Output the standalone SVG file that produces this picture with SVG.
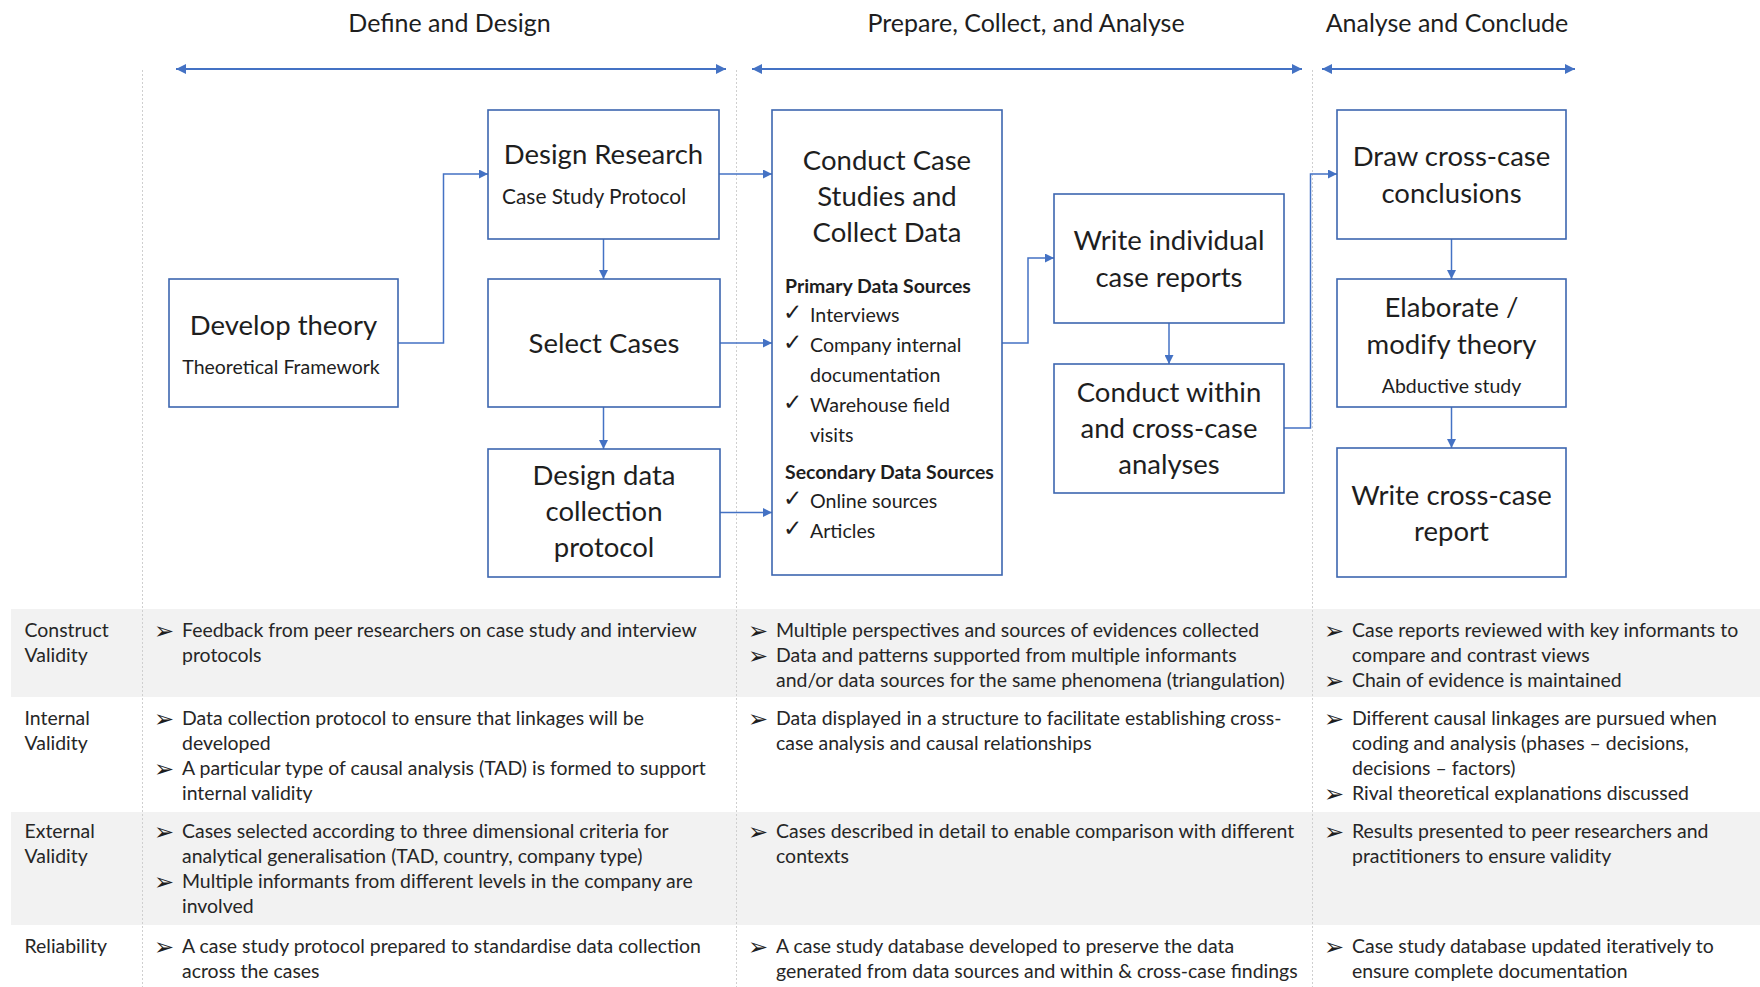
<svg xmlns="http://www.w3.org/2000/svg" width="1760" height="987" viewBox="0 0 1760 987">
  <style>
    text { font-family: Lato, "Liberation Sans", sans-serif; fill: #1e1e1e; }
    .hdr { font-size: 25px; text-anchor: middle; }
    .ttl { font-size: 27.5px; text-anchor: middle; }
    .sub { font-size: 19.5px; }
    .sub-lg { font-size: 20.9px; }
    .mid { text-anchor: middle; }
    .bold { font-weight: bold; font-size: 19.45px; }
    .item { font-size: 19.6px; }
    .tbl { font-size: 19.45px; fill: #262626; }
    .sym { font-family: "DejaVu Sans", sans-serif; font-size: 24px; fill: #1e1e1e; }
    .chk { font-family: "DejaVu Sans", sans-serif; font-size: 23px; fill: #1e1e1e; }
    .box { fill: #ffffff; stroke: #3d66b0; stroke-width: 1.6; }
    .conn { fill: none; stroke: #4472c4; stroke-width: 1.5; }
    .phase { fill: none; stroke: #4472c4; stroke-width: 2.2; }
    .guide { stroke: #cfcfcf; stroke-width: 1; stroke-dasharray: 2 2; }
    .band { fill: #f2f2f2; }
  </style>
  <defs>
    <marker id="tip" viewBox="0 0 10 10" refX="10" refY="5" markerWidth="9" markerHeight="9" markerUnits="userSpaceOnUse" orient="auto-start-reverse">
      <path d="M0,0 L10,5 L0,10 z" fill="#4472c4"/>
    </marker>
    <marker id="ptip" viewBox="0 0 10 10" refX="10" refY="5" markerWidth="10" markerHeight="10" markerUnits="userSpaceOnUse" orient="auto-start-reverse">
      <path d="M0,0 L10,5 L0,10 z" fill="#4472c4"/>
    </marker>
  </defs>

  <rect width="1760" height="987" fill="#ffffff"/>

  <!-- table bands -->
  <g id="bands">
    <rect class="band" x="11" y="609" width="1749" height="88"/>
    <rect class="band" x="11" y="812" width="1749" height="113"/>
  </g>

  <!-- phase dividers -->
  <g id="guides">
    <line class="guide" x1="142.5" y1="70" x2="142.5" y2="987"/>
    <line class="guide" x1="736.5" y1="70" x2="736.5" y2="987"/>
    <line class="guide" x1="1312.5" y1="70" x2="1312.5" y2="987"/>
  </g>

  <!-- phase headings -->
  <g id="phases">
    <text class="hdr" x="449.5" y="32">Define and Design</text>
    <text class="hdr" x="1026" y="32">Prepare, Collect, and Analyse</text>
    <text class="hdr" x="1447" y="32">Analyse and Conclude</text>
    <path class="phase" d="M176,69 H726" marker-start="url(#ptip)" marker-end="url(#ptip)"/>
    <path class="phase" d="M752,69 H1302" marker-start="url(#ptip)" marker-end="url(#ptip)"/>
    <path class="phase" d="M1322,69 H1575" marker-start="url(#ptip)" marker-end="url(#ptip)"/>
  </g>

  <!-- connectors -->
  <g id="connectors">
    <path class="conn" d="M398,343 H443.5 V174 H488" marker-end="url(#tip)"/>
    <path class="conn" d="M603.5,239 V279" marker-end="url(#tip)"/>
    <path class="conn" d="M603.5,407 V449" marker-end="url(#tip)"/>
    <path class="conn" d="M719,174 H772" marker-end="url(#tip)"/>
    <path class="conn" d="M720,343 H772" marker-end="url(#tip)"/>
    <path class="conn" d="M720,512.5 H772" marker-end="url(#tip)"/>
    <path class="conn" d="M1002,343 H1028 V258 H1054" marker-end="url(#tip)"/>
    <path class="conn" d="M1169,323 V364" marker-end="url(#tip)"/>
    <path class="conn" d="M1284,428 H1310.5 V174 H1337" marker-end="url(#tip)"/>
    <path class="conn" d="M1451.5,239 V279" marker-end="url(#tip)"/>
    <path class="conn" d="M1451.5,407 V448" marker-end="url(#tip)"/>
  </g>

  <!-- nodes -->
  <g id="develop-theory">
    <rect class="box" x="169" y="279" width="229" height="128"/>
    <text class="ttl" x="283.5" y="335">Develop theory</text>
    <text class="sub mid" x="281" y="374">Theoretical Framework</text>
  </g>

  <g id="design-research">
    <rect class="box" x="488" y="110" width="231" height="129"/>
    <text class="ttl" x="603.5" y="164">Design Research</text>
    <text class="sub-lg" x="502" y="204">Case Study Protocol</text>
  </g>

  <g id="select-cases">
    <rect class="box" x="488" y="279" width="232" height="128"/>
    <text class="ttl" x="604" y="353">Select Cases</text>
  </g>

  <g id="design-data-collection">
    <rect class="box" x="488" y="449" width="232" height="128"/>
    <text class="ttl" x="604" y="485">Design data</text>
    <text class="ttl" x="604" y="521">collection</text>
    <text class="ttl" x="604" y="557">protocol</text>
  </g>

  <g id="conduct-case-studies">
    <rect class="box" x="772" y="110" width="230" height="465"/>
    <text class="ttl" x="887" y="170">Conduct Case</text>
    <text class="ttl" x="887" y="206">Studies and</text>
    <text class="ttl" x="887" y="242">Collect Data</text>
    <text class="bold" x="785" y="293">Primary Data Sources</text>
    <text class="chk" x="783" y="320">✓</text>
    <text class="item" x="810" y="322">Interviews</text>
    <text class="chk" x="783" y="350">✓</text>
    <text class="item" x="810" y="352">Company internal</text>
    <text class="item" x="810" y="382">documentation</text>
    <text class="chk" x="783" y="410">✓</text>
    <text class="item" x="810" y="412">Warehouse field</text>
    <text class="item" x="810" y="442">visits</text>
    <text class="bold" x="785" y="479">Secondary Data Sources</text>
    <text class="chk" x="783" y="506">✓</text>
    <text class="item" x="810" y="508">Online sources</text>
    <text class="chk" x="783" y="536">✓</text>
    <text class="item" x="810" y="538">Articles</text>
  </g>

  <g id="write-individual-reports">
    <rect class="box" x="1054" y="194" width="230" height="129"/>
    <text class="ttl" x="1169" y="250">Write individual</text>
    <text class="ttl" x="1169" y="287">case reports</text>
  </g>

  <g id="within-cross-case-analyses">
    <rect class="box" x="1054" y="364" width="230" height="129"/>
    <text class="ttl" x="1169" y="402">Conduct within</text>
    <text class="ttl" x="1169" y="438">and cross-case</text>
    <text class="ttl" x="1169" y="474">analyses</text>
  </g>

  <g id="draw-conclusions">
    <rect class="box" x="1337" y="110" width="229" height="129"/>
    <text class="ttl" x="1451.5" y="166">Draw cross-case</text>
    <text class="ttl" x="1451.5" y="203">conclusions</text>
  </g>

  <g id="elaborate-theory">
    <rect class="box" x="1337" y="279" width="229" height="128"/>
    <text class="ttl" x="1451.5" y="317">Elaborate /</text>
    <text class="ttl" x="1451.5" y="354">modify theory</text>
    <text class="sub mid" x="1451.5" y="393">Abductive study</text>
  </g>

  <g id="write-cross-case-report">
    <rect class="box" x="1337" y="448" width="229" height="129"/>
    <text class="ttl" x="1451.5" y="505">Write cross-case</text>
    <text class="ttl" x="1451.5" y="541">report</text>
  </g>

  <!-- quality criteria table -->
  <g id="criteria-labels">
    <text class="tbl" x="24.5" y="637">Construct</text>
    <text class="tbl" x="24.5" y="662">Validity</text>
    <text class="tbl" x="24.5" y="725">Internal</text>
    <text class="tbl" x="24.5" y="750">Validity</text>
    <text class="tbl" x="24.5" y="838">External</text>
    <text class="tbl" x="24.5" y="863">Validity</text>
    <text class="tbl" x="24.5" y="953">Reliability</text>
  </g>

  <g id="criteria-design">
    <text class="sym" x="154" y="639">➢</text>
    <text class="tbl" x="182" y="637">Feedback from peer researchers on case study and interview</text>
    <text class="tbl" x="182" y="662">protocols</text>
    <text class="sym" x="154" y="727">➢</text>
    <text class="tbl" x="182" y="725">Data collection protocol to ensure that linkages will be</text>
    <text class="tbl" x="182" y="750">developed</text>
    <text class="sym" x="154" y="777">➢</text>
    <text class="tbl" x="182" y="775">A particular type of causal analysis (TAD) is formed to support</text>
    <text class="tbl" x="182" y="800">internal validity</text>
    <text class="sym" x="154" y="840">➢</text>
    <text class="tbl" x="182" y="838">Cases selected according to three dimensional criteria for</text>
    <text class="tbl" x="182" y="863">analytical generalisation (TAD, country, company type)</text>
    <text class="sym" x="154" y="890">➢</text>
    <text class="tbl" x="182" y="888">Multiple informants from different levels in the company are</text>
    <text class="tbl" x="182" y="913">involved</text>
    <text class="sym" x="154" y="955">➢</text>
    <text class="tbl" x="182" y="953">A case study protocol prepared to standardise data collection</text>
    <text class="tbl" x="182" y="978">across the cases</text>
  </g>

  <g id="criteria-collect">
    <text class="sym" x="748" y="639">➢</text>
    <text class="tbl" x="776" y="637">Multiple perspectives and sources of evidences collected</text>
    <text class="sym" x="748" y="664">➢</text>
    <text class="tbl" x="776" y="662">Data and patterns supported from multiple informants</text>
    <text class="tbl" x="776" y="687">and/or data sources for the same phenomena (triangulation)</text>
    <text class="sym" x="748" y="727">➢</text>
    <text class="tbl" x="776" y="725">Data displayed in a structure to facilitate establishing cross-</text>
    <text class="tbl" x="776" y="750">case analysis and causal relationships</text>
    <text class="sym" x="748" y="840">➢</text>
    <text class="tbl" x="776" y="838">Cases described in detail to enable comparison with different</text>
    <text class="tbl" x="776" y="863">contexts</text>
    <text class="sym" x="748" y="955">➢</text>
    <text class="tbl" x="776" y="953">A case study database developed to preserve the data</text>
    <text class="tbl" x="776" y="978">generated from data sources and within &amp; cross-case findings</text>
  </g>

  <g id="criteria-conclude">
    <text class="sym" x="1324" y="639">➢</text>
    <text class="tbl" x="1352" y="637">Case reports reviewed with key informants to</text>
    <text class="tbl" x="1352" y="662">compare and contrast views</text>
    <text class="sym" x="1324" y="689">➢</text>
    <text class="tbl" x="1352" y="687">Chain of evidence is maintained</text>
    <text class="sym" x="1324" y="727">➢</text>
    <text class="tbl" x="1352" y="725">Different causal linkages are pursued when</text>
    <text class="tbl" x="1352" y="750">coding and analysis (phases – decisions,</text>
    <text class="tbl" x="1352" y="775">decisions – factors)</text>
    <text class="sym" x="1324" y="802">➢</text>
    <text class="tbl" x="1352" y="800">Rival theoretical explanations discussed</text>
    <text class="sym" x="1324" y="840">➢</text>
    <text class="tbl" x="1352" y="838">Results presented to peer researchers and</text>
    <text class="tbl" x="1352" y="863">practitioners to ensure validity</text>
    <text class="sym" x="1324" y="955">➢</text>
    <text class="tbl" x="1352" y="953">Case study database updated iteratively to</text>
    <text class="tbl" x="1352" y="978">ensure complete documentation</text>
  </g>
</svg>
